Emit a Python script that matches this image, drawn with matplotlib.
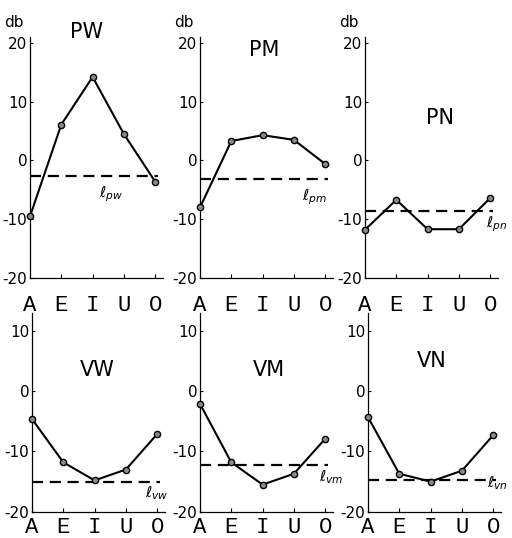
import matplotlib
matplotlib.use("Agg")
import matplotlib.pyplot as plt

vowels = ["A", "E", "I", "U", "O"]

# level in db for each vowel, per panel
pw = [-9.5, 6.1, 14.2, 4.5, -3.6]
pm = [-8.0, 3.3, 4.3, 3.5, -0.6]
pn = [-11.8, -6.7, -11.7, -11.7, -6.4]
vw = [-4.6, -11.8, -14.8, -13.0, -7.1]
vm = [-2.1, -11.8, -15.5, -13.7, -7.9]
vn = [-4.3, -13.7, -15.0, -13.2, -7.3]

# dashed reference levels
lpw, lpm, lpn = -2.7, -3.1, -8.6
lvw, lvm, lvn = -15.1, -12.2, -14.7

plt.rcParams['font.family'] = ['DejaVu Sans']

fig = plt.figure(figsize=(5.12, 5.38), dpi=100)


def panel(rect, vals, level, title, title_xy, lab, lab_xy, ylim, yticks, db=False, xpad=12):
    ax = fig.add_axes(rect)
    x = range(len(vowels))
    ax.plot(x, vals, color="black", lw=1.5, marker="o", ms=4.5,
            mfc="#8a8a8a", mec="black", mew=1.0, zorder=3, clip_on=False)
    ax.plot([0, 4.1], [level, level], color="black", lw=1.6,
            dashes=(5, 3), zorder=2)
    ax.set_xlim(0, 4.25)
    ax.set_ylim(*ylim)
    ax.set_yticks(yticks)
    ax.set_yticklabels([str(t) for t in yticks])
    ax.set_xticks(list(x))
    ax.set_xticklabels(vowels, family="Liberation Mono", fontsize=16)
    ax.tick_params(axis="x", direction="in", length=3, pad=xpad, width=0.8)
    ax.tick_params(axis="y", direction="in", length=2, pad=2, labelsize=11, width=0.8)
    for s in ["top", "right"]:
        ax.spines[s].set_visible(False)
    for s in ["left", "bottom"]:
        ax.spines[s].set_linewidth(0.9)
    ax.text(title_xy[0], title_xy[1], title, fontsize=15, ha="center", va="center")
    ax.text(lab_xy[0], lab_xy[1], lab, fontsize=11, ha="center", va="center")
    if db:
        ax.text(-0.12, 1.06, "db", transform=ax.transAxes, fontsize=11,
                ha="center", va="center")
    return ax


top_b, top_h = 1 - 278 / 538, (278 - 37) / 538
bot_b, bot_h = 1 - 511.7 / 538, (511.7 - 313) / 538
w = 133 / 512

panel([30 / 512, top_b, w, top_h], pw, lpw, "PW", (1.8, 21.9),
      r"$\ell_{pw}$", (2.6, -5.8), (-20, 21), [-20, -10, 0, 10, 20], db=True)
panel([200 / 512, top_b, w, top_h], pm, lpm, "PM", (2.05, 18.8),
      r"$\ell_{pm}$", (3.65, -6.2), (-20, 21), [-20, -10, 0, 10, 20], db=True)
panel([365 / 512, top_b, w, top_h], pn, lpn, "PN", (2.4, 7.3),
      r"$\ell_{pn}$", (4.2, -10.8), (-20, 21), [-20, -10, 0, 10, 20], db=True)

panel([32 / 512, bot_b, w, bot_h], vw, lvw, "VW", (2.1, 3.6),
      r"$\ell_{vw}$", (4.0, -17.0), (-20, 13), [-20, -10, 0, 10], xpad=4)
panel([200 / 512, bot_b, w, bot_h], vm, lvm, "VM", (2.2, 3.6),
      r"$\ell_{vm}$", (4.2, -14.2), (-20, 13), [-20, -10, 0, 10], xpad=4)
panel([368 / 512, bot_b, w, bot_h], vn, lvn, "VN", (2.05, 5.1),
      r"$\ell_{vn}$", (4.15, -15.3), (-20, 13), [-20, -10, 0, 10], xpad=4)

fig.savefig("out.png", dpi=100)
